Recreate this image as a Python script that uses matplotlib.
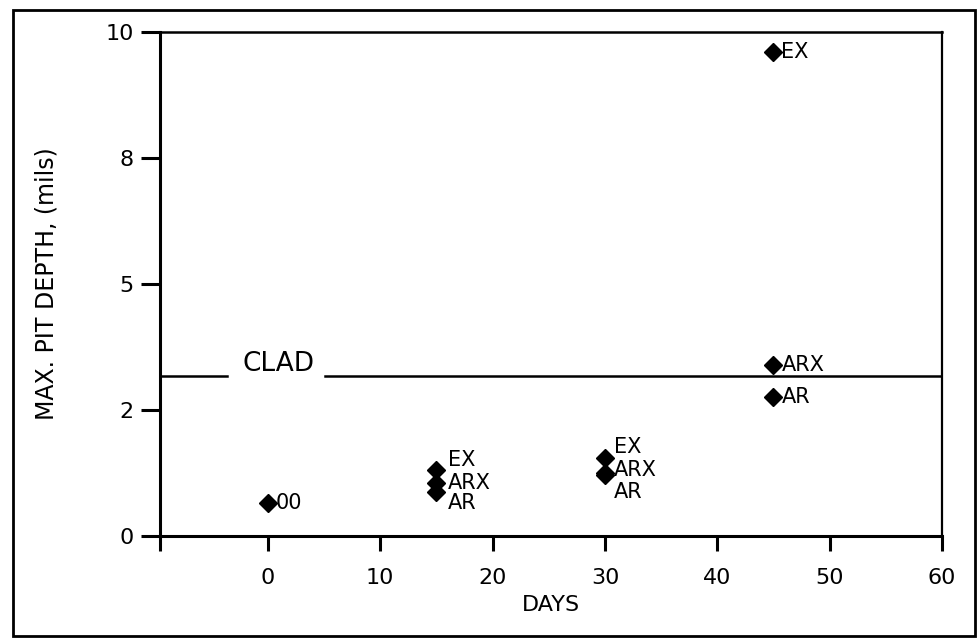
import matplotlib
matplotlib.use("Agg")
import matplotlib.pyplot as plt
from matplotlib.patches import Rectangle

# Maximum pit depth (mils) by exposure time (days)
days_00 = [0]
depth_00 = [0.65]

days_15 = [15, 15, 15]
depth_15 = [1.30, 1.06, 0.87]
labels_15 = ["EX", "ARX", "AR"]

days_30 = [30, 30, 30]
depth_30 = [1.55, 1.25, 1.22]
labels_30 = ["EX", "ARX", "AR"]

days_45 = [45, 45, 45]
depth_45 = [9.6, 3.4, 2.75]
labels_45 = ["EX", "ARX", "AR"]

clad_depth = 3.17

x_ticks = [0, 10, 20, 30, 40, 50, 60]
y_ticks = [0, 2.5, 5, 7.5, 10]
y_tick_labels = ["0", "2", "5", "8", "10"]

plt.rcParams['font.family'] = ['DejaVu Sans']
FS = 16
FS_PT = 15

fig = plt.figure(figsize=(9.77, 6.44), dpi=100)
ax = fig.add_axes([0.1638, 0.1677, 0.9642 - 0.1638, 0.9503 - 0.1677])

xmin, xmax = -9.6, 60
ax.set_xlim(xmin, xmax)
ax.set_ylim(0, 10)

lw = 2.2
for s in ax.spines.values():
    s.set_linewidth(lw)
    s.set_color("black")
ax.spines['right'].set_linewidth(1.6)
ax.spines['top'].set_linewidth(1.8)

ax.set_xticks([xmin] + x_ticks)
ax.set_xticklabels([""] + [str(v) for v in x_ticks], fontsize=FS)
ax.set_yticks(y_ticks)
ax.set_yticklabels(y_tick_labels, fontsize=FS)
ax.tick_params(axis='x', direction='out', length=11, width=lw, pad=12)
ax.tick_params(axis='y', direction='out', length=14, width=lw, pad=5)

ax.set_xlabel("DAYS", fontsize=FS, labelpad=5)
ax.set_ylabel("MAX. PIT DEPTH, (mils)", fontsize=17, labelpad=34)

# clad line with a gap for its label
ax.plot([xmin, -3.6], [clad_depth, clad_depth], color="black", lw=1.8)
ax.plot([5.1, xmax], [clad_depth, clad_depth], color="black", lw=1.8)
ax.text(0.9, clad_depth - 0.02, "CLAD", fontsize=19, ha="center", va="bottom")

mk = dict(marker="D", color="black", markersize=9.5, linestyle="none")
ax.plot(days_00, depth_00, **mk)
ax.plot(days_15, depth_15, **mk)
ax.plot(days_30, depth_30, **mk)
ax.plot(days_45, depth_45, **mk)

ax.text(days_00[0] + 0.7, depth_00[0], "00", fontsize=FS_PT, va="center", ha="left")

# label positions near each point group
off_15 = [1.5, 1.06, 0.65]
for lab, y in zip(labels_15, off_15):
    ax.text(16.0, y, lab, fontsize=FS_PT, va="center", ha="left")
off_30 = [1.77, 1.3, 0.88]
for lab, y in zip(labels_30, off_30):
    ax.text(30.8, y, lab, fontsize=FS_PT, va="center", ha="left")
for lab, y in zip(labels_45, depth_45):
    ax.text(45.7, y, lab, fontsize=FS_PT, va="center", ha="left")

# outer frame
fig.patches.append(Rectangle((13 / 977, 1 - 636 / 644), (975 - 13) / 977, (636 - 10) / 644,
                             transform=fig.transFigure, fill=False, edgecolor="black", lw=2))

fig.savefig("out.png", dpi=100)
